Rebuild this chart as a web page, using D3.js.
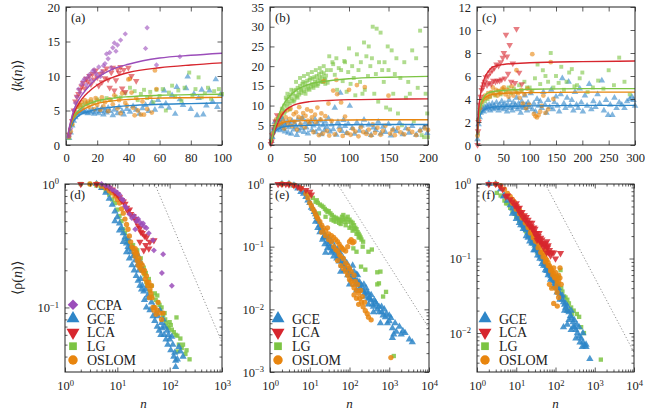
<!DOCTYPE html>
<html><head><meta charset="utf-8">
<script src="https://cdn.jsdelivr.net/npm/d3@7"></script>
<style>body{margin:0;background:#fff}</style>
</head><body><svg id="c" width="645" height="411"></svg>
<script>
// ---------------- DATA ----------------
const methods = ["CCPA","GCE","LCA","LG","OSLOM"];
const methodColors = ["#9b4dba","#2e86c8","#d7262e","#7cc443","#e8850e"];

// Panel (a) scatter [n, <k(n)>]
const a_GCE = [[2,1],[3,1.8],[4,2.8],[5,3.5],[6,4],[7,4.4],[8,4.6],[9,4.8],[10,4.9],[11,5],[12,4.7],[13,4.8],[14,4.6],[15,4.9],[16,4.7],[17,5.1],[18,4.5],[19,4.8],[20,5.2],[21,4.6],[22,4.9],[23,5.3],[24,4.4],[25,5],[26,4.7],[27,5.4],[28,4.9],[30,4.3],[31,5.1],[33,4.6],[34,5.5],[36,4.9],[37,4.4],[39,5.2],[41,4.8],[43,5.6],[45,5.1],[47,4.5],[49,5.3],[51,5.8],[53,4.9],[55,6.2],[57,5.1],[59,6.5],[61,5.6],[63,7.9],[64,6],[66,5.4],[68,7.2],[70,4.5],[71,8.4],[73,6.6],[75,5.8],[77,8.2],[78,9.9],[80,5.2],[82,7.4],[84,4.3],[85,6.8],[87,8],[88,4.4],[90,5.7],[92,7.9],[94,6.3],[96,9.5],[97,5.5],[99,7.3]];
const a_LG = [[2,1],[4,3],[6,4.5],[8,5.5],[10,5.8],[12,6],[14,6.1],[16,6.3],[18,6.2],[20,6.6],[23,6.4],[26,6.8],[29,6.5],[32,7],[35,6.9],[38,7.5],[41,8.3],[44,7.8],[46,6.5],[48,7.4],[50,8],[52,6.8],[54,7.7],[56,6.2],[58,8],[60,7.1],[62,8.1],[64,5],[66,7.6],[68,8.6],[70,7],[72,7.9],[74,6.4],[76,8.3],[79,10.5],[81,7.2],[83,8.1],[85,9.8],[87,6.9],[89,7.5],[91,8.3],[93,6.7],[95,7.8],[98,8.1],[100,7.4]];
const a_OSLOM = [[2,1.2],[3,2],[4,3],[5,4.2],[6,4.8],[7,5.5],[8,6],[9,5.7],[10,6.2],[11,5.4],[12,6.5],[13,5.9],[14,6.3],[15,5.5],[16,6.6],[17,6],[18,5.2],[19,6.8],[20,5.8],[21,6.4],[22,5.1],[23,6.9],[24,5.6],[25,6.2],[27,4.9],[28,6.6],[30,5.9],[31,7.2],[33,5.3],[34,6.5],[35,4.6],[36,7.5],[38,6.1],[39,5.7],[40,9.5],[41,9.6],[42,7.6],[43,5.4],[44,4.3],[45,6.8],[46,5],[48,4.4],[49,6.3],[50,4.4],[52,5.2],[54,7],[55,4.7],[57,10.8],[58,8.1]];
const a_LCA = [[2,1.5],[4,3.5],[5,5],[6,6.3],[7,7],[8,7.4],[9,8],[10,8.5],[11,9],[12,8.2],[13,9.6],[14,9.2],[15,10],[16,8.8],[17,10.3],[18,9.5],[19,10.8],[20,9.8],[21,8.6],[22,10.3],[23,9.1],[24,10.7],[25,9.7],[26,11.1],[27,9.5],[28,8.3],[29,10.5],[30,11.2],[31,7.9],[32,9.4],[33,11],[34,10.5],[35,11.3],[36,8.2],[37,10.9],[38,7.7],[40,11.2],[42,10],[45,9.3]];
const a_CCPA = [[2,1.3],[3,2.4],[4,3.6],[5,5],[6,6.1],[7,7],[8,8.1],[9,7.6],[10,8.8],[11,9.3],[12,9.6],[13,8.7],[14,9.8],[15,10.2],[16,9.4],[17,10.7],[18,10.9],[19,10.4],[20,10.1],[21,11.3],[22,9.9],[23,10.6],[24,11.5],[25,11.8],[26,13.2],[27,12.5],[28,13.4],[29,11.2],[30,14.1],[31,14.8],[32,13.6],[33,14.5],[35,15.2],[38,16.1],[51,14],[52,17],[58,11.6],[73,12.8]];
// Panel (a) fitted curves
const fitA_n = [1,2,4,6,8,10,15,20,30,40,60,80,100];
const fitA_CCPA = [1,2.4,4.3,5.6,6.5,7.2,8.6,9.7,11.0,11.7,12.6,13.0,13.3];
const fitA_LCA = [1,2.3,4.0,5.1,5.9,6.6,7.8,8.7,9.8,10.5,11.2,11.6,11.9];
const fitA_LG = [1,2.2,3.7,4.5,5.0,5.4,6.0,6.4,6.8,7.0,7.2,7.3,7.35];
const fitA_OSLOM = [1,2.1,3.5,4.3,4.7,5.0,5.6,6.0,6.4,6.6,6.8,6.85,6.9];
const fitA_GCE = [1,1.9,3.1,3.8,4.2,4.5,4.9,5.2,5.5,5.7,5.9,6.0,6.1];

// Panel (b)
const b_GCE = [[2,1],[3,2],[4,3.5],[5,4.2],[6,5.8],[7,4.7],[8,3.9],[9,5.2],[10,6.3],[11,4.4],[12,5],[13,3.7],[14,5.6],[15,4.8],[16,6.6],[17,4.1],[18,5.3],[19,3.4],[20,4.9],[22,5.9],[23,3.1],[24,4.5],[26,5.2],[27,2.8],[28,6.1],[30,3.9],[31,5.5],[33,4.6],[34,2.5],[35,6.4],[37,3.6],[38,5.1],[40,4.2],[41,6.8],[43,3.3],[45,5.7],[46,4.4],[48,2.9],[50,5.3],[52,6],[53,3.8],[55,4.9],[57,6.5],[58,3.2],[60,5.5],[62,4.1],[64,6.2],[65,2.7],[67,5],[69,3.7],[70,5.9],[72,4.5],[74,6.7],[76,3.4],[78,5.2],[80,4],[82,9.4],[84,2.6],[86,5.8],[88,4.6],[89,13.2],[91,3.5],[93,6.3],[95,4.8],[97,3],[99,5.4],[101,9.9],[104,4.3],[107,2.8],[110,5.7],[113,3.6],[116,4.9],[119,6.4],[122,3.2],[125,5.1],[128,2.5],[131,4.4],[134,3.8],[137,5.9],[140,2.9],[143,4.6],[146,3.3],[150,5.3],[153,2.4],[156,4],[160,3.5],[164,5.6],[168,2.7],[172,4.2],[176,3.1],[180,4.8],[185,2.6],[190,3.7],[195,4.5],[199,3]];
const b_LG = [[3,2],[5,3.5],[8,5],[10,6.5],[12,7],[14,8],[15,9.2],[17,9],[18,10],[20,10.5],[21,11.5],[23,11],[24,12.2],[26,12.8],[27,11.8],[29,13],[30,13.8],[32,12.5],[33,14],[35,14.5],[36,13.3],[38,15],[39,14.2],[41,15.5],[42,16],[44,14.8],[45,15.7],[47,16.3],[48,15],[50,16.5],[51,17],[53,15.5],[54,16.8],[56,17.2],[57,16],[59,17.5],[60,16.5],[62,18],[63,17],[65,18.5],[66,17.3],[68,18.2],[69,16.8],[71,17.6],[73,15.8],[75,22.5],[77,19],[79,21],[80,20.5],[82,17.8],[84,22],[85,14],[87,19.5],[90,19],[92,16.2],[94,21.3],[95,21],[97,13.5],[99,18.5],[100,24.5],[102,15.5],[104,20],[106,17],[108,12.6],[110,23],[112,19],[114,16],[115,21],[117,13],[119,26],[120,14],[122,22.5],[124,17.5],[125,25],[127,20],[129,22],[130,30],[132,13],[134,18],[135,29.5],[137,11],[138,21],[140,28.5],[142,19],[144,16],[145,21],[147,9.5],[149,25],[150,19],[152,9],[154,24],[156,13],[158,18],[160,22],[162,8],[165,17],[167,5],[170,21],[172,12],[175,16],[177,13],[180,24],[182,6],[185,22],[187,14.5],[190,29],[192,2.5],[195,2],[197,13],[199,8],[200,2],[19,8.5],[25,10.5],[31,11.5],[37,12.8],[43,13.6],[49,14.3],[55,15],[61,15.5],[67,16],[22,9.8],[28,11.2],[34,12.3],[40,13.2],[46,14],[52,14.8],[58,15.3],[64,16.2],[70,16.6],[15,7],[18,8],[20,12],[22,13],[25,9],[27,14],[30,11],[33,16],[35,12],[38,17],[40,14],[43,17.5],[45,13],[48,18],[50,14],[53,18.5],[55,14.5],[58,19],[60,15],[63,19.5],[65,16],[68,20],[70,15.5],[72,19]];
const b_OSLOM = [[2,1],[4,3],[6,5],[8,6.5],[10,5],[12,7.5],[14,5.5],[15,8],[17,6],[18,4.2],[20,7],[22,8.8],[23,5.3],[25,6.6],[26,9.2],[28,4.8],[30,7.8],[31,5.9],[33,8.3],[34,3.9],[36,7.1],[37,9.6],[39,5.2],[40,6.8],[42,8.1],[44,4.5],[45,7.4],[47,9],[48,6.2],[50,5.4],[52,8.6],[53,7],[55,3.3],[57,7.7],[58,5.8],[60,9.5],[62,2.5],[64,6.5],[65,8],[67,2.9],[68,16.2],[70,7.3],[72,3.6],[74,10.5],[75,2.4],[78,6.1],[80,13.8],[82,2.7],[84,16.5],[85,12.9],[88,3.8],[90,10.8],[92,2.3],[95,7.2],[98,3],[100,14],[102,2.6],[105,4.1],[108,3.4],[110,15.2],[112,2.2],[115,4.5],[118,3.3],[120,14.7],[122,2.8],[125,3.9],[128,2.4],[130,5.2],[133,3.1],[136,4.4],[140,2.6],[143,3.6],[146,4.9],[150,12.5],[152,2.9],[155,3.8],[158,2.5],[162,4.3],[165,3.2],[170,2.7],[175,4],[180,3.3],[185,2.5],[190,3.6],[196,4.2],[200,3.8]];
const b_LCA = [[1,0.3],[2,1],[3,2.5],[5,4],[7,6],[9,7.6]];
const fitB_n = [1,3,6,10,15,20,30,50,75,100,150,200];
const fitB_LG = [0.5,2,4.5,7,9.5,11.2,13.4,15.4,16.3,16.8,17.2,17.4];
const fitB_LCA = [0.5,1.8,3.6,5.6,7.6,8.9,10.1,11.0,11.3,11.5,11.6,11.7];
const fitB_OSLOM = [0.5,2.2,4.0,5.0,5.6,5.9,6.1,6.2,6.3,6.35,6.4,6.4];
const fitB_GCE = [0.5,1.8,3.2,4.0,4.5,4.7,4.9,5.0,5.1,5.15,5.2,5.2];

// Panel (c)
const c_GCE = [[1,0.5],[3,1.8],[5,2.4],[7,2.8],[9,3],[11,3.2],[13,2.9],[15,3.3],[17,3.1],[19,3.4],[21,3.2],[23,3.5],[25,3],[27,3.3],[29,3.6],[31,3.1],[33,3.4],[35,3.2],[37,3.7],[39,3.3],[41,3],[43,3.5],[45,3.2],[47,3.8],[49,3.4],[51,3.1],[53,3.6],[55,3.3],[57,2.9],[59,3.5],[61,3.9],[63,3.2],[65,3.4],[67,3],[69,3.7],[71,3.3],[73,3.5],[75,4.1],[77,3.1],[79,3.6],[81,3.3],[83,2.8],[85,3.8],[87,3.4],[89,3.2],[91,4.3],[93,3.5],[95,3],[97,3.7],[99,3.3],[102,4.5],[105,3.1],[108,3.6],[111,2.9],[114,4],[117,3.4],[120,3.8],[123,3.2],[126,4.6],[129,3.5],[132,2.8],[135,3.9],[138,3.3],[141,4.8],[144,3.1],[147,3.7],[150,4.2],[153,3.4],[156,2.9],[159,4.4],[162,5.8],[165,3.6],[168,3.2],[171,4.1],[174,5.5],[177,3.4],[180,3.9],[183,3],[186,4.6],[189,3.5],[192,3.2],[195,4.9],[198,3.7],[201,2.9],[205,4.3],[209,3.4],[213,5.3],[217,3.1],[221,3.8],[225,3.3],[229,4.4],[233,3.6],[237,5.6],[241,3],[245,3.9],[249,2.6],[253,3.5],[257,2.6],[261,4.1],[265,3.2],[270,3.7],[275,3.5],[280,3.2],[285,3.8],[290,4],[294,4.2],[297,3.9],[300,3.4]];
const c_LG = [[2,1],[5,2.8],[10,3.5],[15,3.8],[20,4],[25,4.2],[30,4.5],[35,4.3],[40,4.7],[45,4.4],[50,4.8],[55,4.6],[60,5],[65,4.5],[70,4.9],[75,4.6],[80,5.2],[85,4.7],[90,5.5],[95,5],[100,5],[105,4.7],[110,5.8],[115,7],[120,5.3],[125,6.5],[130,6],[135,5.5],[140,8],[145,5],[150,6],[155,5.4],[160,6.8],[165,4.8],[170,5.5],[175,6.3],[180,6.6],[185,5.1],[190,5.2],[195,5.8],[200,6.3],[210,4.6],[220,5],[230,5.6],[240,4.9],[250,6.5],[260,5.2],[270,7.6],[280,5.5],[290,4.4]];
const c_OSLOM = [[1,0.8],[3,2.2],[6,3.2],[9,3.8],[12,4],[15,4.3],[18,4.1],[21,4.5],[24,4.2],[27,4.6],[30,5],[33,4.4],[36,4.8],[39,4.3],[42,4.7],[45,4.5],[48,4.9],[51,5],[54,4.4],[57,4.8],[60,4.2],[63,4.6],[66,5.1],[69,4.3],[72,4.7],[75,6.5],[78,4.5],[81,4.1],[84,4.8],[87,3.6],[90,4.4],[93,3.2],[96,4.9],[99,3.5],[102,4.6],[105,7.9],[108,2.7],[111,2.5],[114,2.4],[117,2.6],[120,2.9],[123,3.4],[126,4.3],[130,2.8],[135,3.1],[140,7.2],[145,4]];
const c_LCA = [[1,0],[2,1.2],[3,2],[5,3.5],[7,4.2],[9,4.8],[11,5],[13,5.3],[15,5.5],[17,5.9],[19,5.2],[21,6],[23,5.4],[25,6.3],[27,5.3],[29,6.5],[31,5.6],[33,6.7],[35,5.5],[37,7],[39,5.6],[41,6.9],[43,5.6],[45,7.2],[47,5.7],[49,7.6],[51,8],[53,5.8],[55,9.6],[57,7.7],[59,6.2],[62,8.7],[65,5.5],[68,7.1],[72,5.4],[75,10.1],[80,6.3],[85,5.3]];
const fitC_n = [1,2,4,7,10,15,20,30,50,100,200,300];
const fitC_LCA = [1,2.2,3.5,4.5,5.2,5.9,6.3,6.8,7.0,7.15,7.25,7.3];
const fitC_LG = [1,1.8,2.8,3.5,3.9,4.3,4.5,4.65,4.75,4.85,4.9,4.9];
const fitC_OSLOM = [1,1.8,2.7,3.4,3.8,4.1,4.25,4.4,4.5,4.55,4.6,4.6];
const fitC_GCE = [0.9,1.5,2.2,2.7,2.95,3.1,3.2,3.3,3.35,3.4,3.45,3.45];

// Panel (d) [n, <rho(n)>]
const d_LG = [[2,1],[3,1],[4,0.97],[5,0.93],[6,0.88],[7,0.82],[8,0.75],[9,0.7],[10,0.62],[11,0.55],[12,0.5],[13,0.43],[14,0.4],[15,0.36],[16,0.34],[18,0.32],[19,0.3],[21,0.27],[23,0.26],[25,0.24],[27,0.215],[30,0.2],[33,0.185],[36,0.16],[38,0.15],[42,0.135],[46,0.123],[50,0.1],[54,0.115],[60,0.11],[66,0.095],[75,0.087],[82,0.08],[90,0.07],[100,0.076],[110,0.066],[120,0.063],[135,0.083],[140,0.059],[150,0.05],[160,0.056],[140,0.044],[200,0.042],[240,0.038],[20,0.32],[24,0.29],[28,0.25],[32,0.21],[35,0.19],[40,0.17],[45,0.15],[52,0.13],[58,0.125],[64,0.105],[70,0.1],[80,0.09],[85,0.075],[95,0.068],[105,0.072],[130,0.06],[170,0.047],[180,0.05],[210,0.045]];
const d_GCE = [[4,1],[5,0.93],[6,0.85],[7,0.76],[8,0.68],[9,0.6],[10,0.54],[11,0.48],[12,0.44],[13,0.4],[14,0.37],[15,0.33],[16,0.31],[17,0.3],[18,0.28],[20,0.26],[22,0.24],[24,0.22],[26,0.2],[28,0.17],[30,0.15],[32,0.135],[35,0.14],[38,0.125],[40,0.12],[45,0.11],[50,0.1],[55,0.09],[60,0.085],[65,0.095],[70,0.075],[75,0.08],[80,0.07],[90,0.065],[95,0.06],[100,0.055],[110,0.058],[115,0.05],[125,0.043],[130,0.037],[160,0.044],[150,0.048],[180,0.04],[9,0.5],[11,0.42],[13,0.34],[15,0.28],[17,0.25],[19,0.22],[21,0.2],[23,0.18],[25,0.165],[27,0.15],[29,0.14],[33,0.115],[36,0.1],[42,0.095],[48,0.085],[52,0.078],[58,0.07],[63,0.065],[68,0.06],[72,0.068],[78,0.06],[85,0.055],[92,0.05],[105,0.045],[120,0.04],[140,0.038],[16,0.36],[20,0.3],[24,0.27],[28,0.23],[31,0.2],[130,0.033]];
const d_OSLOM = [[3,1],[4,1],[5,0.96],[6,0.93],[7,0.88],[8,0.85],[9,0.8],[10,0.75],[11,0.7],[12,0.63],[13,0.58],[14,0.52],[15,0.47],[16,0.43],[17,0.38],[18,0.34],[19,0.31],[20,0.3],[21,0.28],[22,0.26],[23,0.28],[24,0.24],[25,0.22],[27,0.21],[29,0.2],[30,0.22],[32,0.19],[34,0.17],[36,0.18],[38,0.15],[40,0.16],[42,0.14],[44,0.13],[46,0.12],[48,0.1],[50,0.095],[55,0.088],[60,0.11],[65,0.09],[70,0.08],[22,0.3],[24,0.27],[26,0.25],[28,0.23],[33,0.2],[37,0.16],[41,0.12],[45,0.15],[52,0.1],[58,0.095],[75,0.09]];
const d_LCA = [[2,1],[4,1],[6,0.96],[7,0.93],[8,0.9],[9,0.85],[10,0.82],[11,0.78],[12,0.74],[13,0.72],[14,0.69],[15,0.64],[16,0.6],[17,0.62],[18,0.57],[20,0.55],[22,0.52],[23,0.5],[25,0.46],[27,0.44],[28,0.41],[30,0.4],[33,0.38],[36,0.37],[27,0.34],[35,0.32],[42,0.34],[50,0.35],[32,0.29],[40,0.3]];
const d_CCPA = [[5,1],[6,0.97],[7,0.95],[8,0.9],[9,0.88],[10,0.85],[11,0.82],[12,0.76],[13,0.74],[14,0.66],[15,0.64],[17,0.57],[19,0.53],[21,0.55],[23,0.5],[25,0.52],[27,0.49],[29,0.47],[31,0.48],[33,0.45],[36,0.44],[22,0.43],[40,0.4],[48,0.35],[50,0.29],[75,0.27],[71,0.19],[110,0.15]];

// Panel (e)
const e_LG = [[2,1],[3,1],[4,0.97],[5,0.9],[6,0.85],[8,0.75],[10,0.67],[12,0.6],[14,0.52],[15,0.55],[16,0.5],[18,0.47],[20,0.45],[22,0.43],[24,0.4],[26,0.38],[28,0.36],[30,0.37],[33,0.34],[36,0.32],[40,0.3],[45,0.29],[50,0.28],[55,0.27],[60,0.26],[65,0.3],[70,0.32],[75,0.25],[80,0.28],[90,0.3],[100,0.27],[110,0.25],[120,0.24],[130,0.22],[140,0.2],[150,0.19],[160,0.17],[170,0.16],[180,0.15],[190,0.14],[200,0.13],[220,0.12],[17,0.34],[25,0.3],[35,0.27],[45,0.25],[60,0.23],[80,0.22],[100,0.2],[120,0.18],[150,0.16],[40,0.26],[55,0.24],[70,0.27],[90,0.25],[110,0.21],[130,0.19],[170,0.14],[215,0.1],[125,0.094],[150,0.083],[300,0.083],[365,0.09],[195,0.048],[250,0.043],[500,0.039],[550,0.026],[600,0.04],[500,0.025],[830,0.019],[700,0.016],[1300,0.0018]];
const e_GCE = [[2,1],[3,1],[4,0.95],[5,0.85],[6,0.75],[7,0.7],[8,0.62],[9,0.55],[10,0.5],[11,0.42],[12,0.4],[13,0.36],[14,0.33],[15,0.3],[16,0.27],[17,0.25],[18,0.22],[19,0.2],[20,0.19],[22,0.17],[21,0.13],[24,0.15],[26,0.14],[28,0.12],[30,0.11],[25,0.08],[32,0.1],[35,0.095],[38,0.09],[40,0.085],[45,0.08],[50,0.075],[55,0.07],[60,0.065],[65,0.058],[70,0.053],[75,0.05],[80,0.045],[60,0.04],[90,0.042],[100,0.038],[110,0.035],[120,0.05],[125,0.032],[140,0.03],[150,0.036],[160,0.028],[170,0.025],[180,0.022],[200,0.024],[220,0.02],[240,0.018],[250,0.016],[270,0.019],[300,0.018],[320,0.015],[350,0.014],[380,0.012],[400,0.011],[450,0.013],[500,0.01],[560,0.009],[640,0.011],[700,0.008],[800,0.0075],[900,0.006],[1000,0.0065],[1100,0.0073],[1200,0.005],[1300,0.004],[1500,0.0044],[1800,0.0053],[2200,0.0045],[3200,0.0033],[1200,0.0035],[600,0.006],[400,0.009],[300,0.012],[150,0.02],[100,0.025],[14,0.25],[16,0.2],[18,0.17],[22,0.14],[24,0.11],[28,0.095],[30,0.14],[34,0.08],[36,0.12],[40,0.07],[42,0.1],[48,0.065],[50,0.09],[55,0.058],[58,0.08],[65,0.05],[70,0.065],[75,0.042],[85,0.055],[90,0.035],[100,0.045],[110,0.03],[130,0.04],[140,0.025],[160,0.035],[180,0.027],[200,0.02],[230,0.025],[260,0.022],[300,0.015],[350,0.017],[420,0.014],[480,0.012],[550,0.011],[650,0.009],[750,0.01],[850,0.0085],[1000,0.008],[1400,0.006],[2000,0.004],[2500,0.0042],[3800,0.003]];
const e_OSLOM = [[2,1],[3,1],[4,0.95],[6,0.85],[8,0.7],[9,0.6],[10,0.5],[11,0.45],[12,0.4],[13,0.37],[14,0.33],[15,0.3],[16,0.28],[18,0.25],[20,0.22],[22,0.2],[25,0.18],[28,0.2],[30,0.16],[35,0.15],[40,0.14],[45,0.13],[50,0.12],[55,0.11],[60,0.1],[65,0.095],[70,0.09],[80,0.085],[90,0.1],[100,0.12],[110,0.13],[120,0.115],[130,0.12],[50,0.06],[60,0.05],[70,0.045],[80,0.04],[90,0.035],[100,0.03],[110,0.028],[120,0.025],[130,0.022],[150,0.02],[170,0.018],[180,0.015],[200,0.013],[220,0.011],[250,0.0095],[280,0.0085],[300,0.0075],[350,0.0068],[1100,0.0017],[20,0.17],[25,0.15],[30,0.13],[35,0.12],[40,0.1],[45,0.09],[50,0.085],[55,0.075],[60,0.07],[70,0.065],[80,0.055],[90,0.05],[100,0.045],[110,0.04],[130,0.035],[140,0.028],[160,0.025],[190,0.02],[210,0.016],[240,0.013],[170,0.012],[130,0.017],[150,0.015]];
const e_LCA = [[1.6,1],[2,1],[2.5,1],[3,0.98],[4,0.95],[5,0.9],[6,0.85],[8,0.8],[10,0.75],[11,0.68]];

// Panel (f)
const f_GCE = [[2,1],[3,1],[4,0.85],[4.7,0.68],[5,0.7],[6,0.6],[7,0.52],[8,0.47],[9,0.43],[10,0.4],[11,0.38],[12,0.35],[13,0.33],[14,0.3],[15,0.28],[16,0.27],[17,0.25],[18,0.24],[20,0.22],[22,0.2],[24,0.185],[26,0.17],[28,0.16],[30,0.15],[32,0.14],[34,0.135],[36,0.125],[38,0.12],[40,0.11],[43,0.105],[46,0.098],[50,0.09],[53,0.085],[56,0.08],[60,0.075],[64,0.07],[68,0.065],[72,0.062],[76,0.058],[80,0.055],[85,0.052],[90,0.05],[95,0.047],[100,0.044],[105,0.042],[110,0.04],[120,0.036],[130,0.033],[140,0.031],[150,0.028],[160,0.026],[170,0.024],[180,0.022],[200,0.02],[220,0.019],[240,0.017],[260,0.016],[280,0.014],[300,0.012],[330,0.011],[360,0.01],[400,0.009],[450,0.0085],[500,0.0075],[550,0.0068],[600,0.0065],[750,0.0045],[12,0.3],[15,0.25],[20,0.19],[25,0.16],[30,0.13],[40,0.1],[50,0.08],[60,0.068],[70,0.07],[80,0.06],[100,0.05],[120,0.04],[150,0.032],[180,0.025],[200,0.023],[250,0.02],[300,0.015],[350,0.013],[160,0.012],[200,0.013],[250,0.011],[400,0.012],[500,0.01],[8,0.4],[10,0.34],[13,0.28],[18,0.2],[22,0.17],[28,0.13],[35,0.11],[45,0.085],[55,0.07],[65,0.06],[75,0.052],[90,0.042],[110,0.035],[130,0.028],[170,0.02],[220,0.015],[280,0.012],[330,0.0085],[420,0.0075],[600,0.007],[480,0.0065]];
const f_LG = [[2,1],[3.2,0.76],[4,0.7],[5.5,0.55],[6,0.55],[7,0.48],[8,0.43],[9,0.4],[10,0.36],[12,0.32],[14,0.28],[16,0.25],[18,0.23],[20,0.21],[23,0.19],[26,0.17],[30,0.15],[34,0.135],[38,0.12],[43,0.11],[48,0.1],[55,0.09],[62,0.08],[70,0.073],[80,0.065],[90,0.058],[100,0.05],[111,0.058],[134,0.07],[120,0.045],[140,0.04],[166,0.031],[200,0.028],[250,0.022],[290,0.02],[350,0.018],[400,0.0165],[450,0.012],[530,0.01],[1430,0.0044],[5,0.6],[7,0.52],[9,0.45],[11,0.36],[13,0.3],[15,0.27],[17,0.24],[20,0.2],[25,0.16],[30,0.14],[35,0.12],[40,0.11],[50,0.09],[60,0.075],[70,0.065],[80,0.06],[95,0.05],[105,0.048],[120,0.055],[150,0.036],[180,0.03],[220,0.025],[200,0.02],[260,0.018]];
const f_OSLOM = [[3,1],[4,0.95],[5,0.85],[6,0.75],[7,0.68],[8,0.62],[9,0.57],[10,0.52],[11,0.48],[12,0.45],[13,0.42],[14,0.39],[15,0.37],[16,0.35],[18,0.31],[20,0.28],[22,0.26],[24,0.24],[26,0.22],[28,0.2],[30,0.19],[33,0.18],[36,0.16],[40,0.15],[44,0.13],[48,0.12],[52,0.11],[56,0.1],[60,0.095],[65,0.088],[70,0.08],[75,0.075],[80,0.07],[90,0.063],[100,0.056],[110,0.05],[120,0.06],[130,0.075],[90,0.075],[25,0.26],[35,0.2],[45,0.16],[55,0.13],[40,0.18],[60,0.12],[100,0.04],[110,0.035],[120,0.03],[70,0.045],[80,0.04],[8,0.55],[10,0.46],[12,0.4],[14,0.35],[17,0.3],[20,0.26],[23,0.22],[27,0.19],[31,0.17],[36,0.14],[42,0.12],[48,0.105],[55,0.09],[65,0.08],[75,0.068],[85,0.06],[95,0.055],[110,0.045],[100,0.065],[120,0.05],[140,0.045],[90,0.025],[111,0.023],[130,0.055]];
const f_LCA = [[2,1],[3,1],[3.9,0.92],[4.5,0.85],[5.4,0.68],[6,0.7],[7,0.62],[8,0.58],[9,0.52],[10,0.5],[11,0.47],[12,0.42],[13,0.4],[15,0.35],[17,0.33],[19,0.3],[22,0.3],[24,0.27],[26,0.25],[28,0.23],[30,0.22],[32,0.2],[34,0.177],[36,0.19],[40,0.17],[44,0.16],[48,0.16],[52,0.15],[58,0.144],[63,0.14],[70,0.13],[80,0.12],[134,0.118],[10,0.55],[12,0.48],[14,0.42],[16,0.38],[18,0.36],[20,0.33],[22,0.27],[25,0.3],[28,0.26],[30,0.25],[33,0.22],[36,0.2],[38,0.22],[42,0.19],[45,0.18],[50,0.14],[55,0.16],[60,0.12],[65,0.15],[75,0.11],[90,0.12],[100,0.1],[60,0.17],[68,0.12]];

// Guide lines (dotted, slope -1): [n, rho] endpoints
const guideD = [[52,1],[1000,0.052]];
const guideE = [[50,1],[10000,0.005]];
const guideF = [[55,1],[10000,0.0055]];

// Tick values
const ticksAx = [0,20,40,60,80,100], ticksAy = [0,5,10,15,20];
const ticksBx = [0,50,100,150,200], ticksBy = [0,5,10,15,20,25,30,35];
const ticksCx = [0,50,100,150,200,250,300], ticksCy = [0,2,4,6,8,10,12];
const ticksDx = [1,10,100,1000], ticksDy = [0.1,1];
const ticksEx = [1,10,100,1000,10000], ticksEy = [0.001,0.01,0.1,1];
const ticksFx = [1,10,100,1000,10000], ticksFy = [0.01,0.1,1];

// ---------------- DRAWING ----------------
const FONT = '"Liberation Serif"';
const svg = d3.select("#c");
const col = m => methodColors[methods.indexOf(m)];

function symPath(m, size){
  const t = {CCPA:d3.symbolSquare,GCE:d3.symbolTriangle,LCA:d3.symbolTriangle,LG:d3.symbolSquare,OSLOM:d3.symbolCircle}[m];
  const s = {CCPA:0.8,GCE:1.05,LCA:1.05,LG:0.85,OSLOM:1}[m];
  return d3.symbol().type(t).size(size*s)();
}
function symRot(m){ return m==="CCPA"?45:(m==="LCA"?180:0); }

function drawPoints(g, data, m, x, y, size, op){
  g.append("g").selectAll("path").data(data).join("path")
    .attr("d", symPath(m,size))
    .attr("transform", d=>`translate(${x(d[0])},${y(d[1])}) rotate(${symRot(m)})`)
    .attr("fill", col(m)).attr("fill-opacity", op);
}

function supLabel(sel, fs){
  sel.each(function(d){
    const e = Math.round(Math.log10(d));
    const t = d3.select(this); t.text("10");
    t.append("tspan").attr("dy","-0.5em").attr("font-size",fs).text(e<0?"\u2212"+(-e):String(e));
  });
}

function frameAndAxes(g, x, y, P, xt, yt, log){
  const tc="#333";
  const ax = (gen, tr, vals, size, lab) => {
    const a = g.append("g").attr("transform", tr)
      .call(gen.tickValues(vals).tickSize(size).tickPadding(6).tickFormat(lab?null:""));
    a.attr("font-family", null);
    a.select(".domain").remove();
    a.selectAll("line").attr("stroke", tc).attr("stroke-width",0.8);
    a.selectAll("text").attr("font-size","12.5px").attr("fill","#222").style("font-family", FONT);
    return a;
  };
  let minX=[], minY=[];
  if(log){
    const [xa,xb]=x.domain(), [ya,yb]=y.domain();
    for(let e=Math.floor(Math.log10(xa)); e<Math.log10(xb); e++) for(let k=2;k<10;k++){const v=k*10**e; if(v>xa&&v<xb) minX.push(v);}
    for(let e=Math.floor(Math.log10(ya)); e<Math.log10(yb); e++) for(let k=2;k<10;k++){const v=k*10**e; if(v>ya&&v<yb) minY.push(v);}
  }
  const L = 4.5, l = 2.5;
  const xb = ax(d3.axisBottom(x), `translate(0,${P.y1})`, xt, -L, true);
  ax(d3.axisTop(x), `translate(0,${P.y0})`, xt, -L, false);
  const yl = ax(d3.axisLeft(y), `translate(${P.x0},0)`, yt, -L, true);
  ax(d3.axisRight(y), `translate(${P.x1},0)`, yt, -L, false);
  if(log){
    ax(d3.axisBottom(x), `translate(0,${P.y1})`, minX, -l, false);
    ax(d3.axisTop(x), `translate(0,${P.y0})`, minX, -l, false);
    ax(d3.axisLeft(y), `translate(${P.x0},0)`, minY, -l, false);
    ax(d3.axisRight(y), `translate(${P.x1},0)`, minY, -l, false);
    supLabel(xb.selectAll("text"), "8.5px");
    supLabel(yl.selectAll("text"), "8.5px");
    xb.selectAll("text").attr("dy","0.95em");
  } else {
    xb.selectAll("text").attr("dy","0.85em");
  }
  g.append("rect").attr("x",P.x0).attr("y",P.y0).attr("width",P.x1-P.x0).attr("height",P.y1-P.y0)
    .attr("fill","none").attr("stroke","#222").attr("stroke-width",1);
}

function txt(g){ return g.append("text").style("font-family", FONT).attr("fill","#222"); }

function panelLabel(g, P, t){
  txt(g).attr("x",P.x0+5).attr("y",P.y0+15).attr("font-size","13px").text(t);
}

const lineGen = (x,y) => d3.line().x(d=>x(d[0])).y(d=>y(d[1])).curve(d3.curveMonotoneX);

function topPanel(P, xd, yd, xt, yt, series, fits, fitN, label){
  const g = svg.append("g");
  const x = d3.scaleLinear().domain(xd).range([P.x0,P.x1]);
  const y = d3.scaleLinear().domain(yd).range([P.y1,P.y0]);
  series.forEach(([m,data]) => drawPoints(g, data, m, x, y, 18, 0.6));
  fits.forEach(([m,vals]) => {
    g.append("path").datum(fitN.map((n,i)=>[n,vals[i]])).attr("d", lineGen(x,y))
      .attr("fill","none").attr("stroke",col(m)).attr("stroke-width",1.4);
  });
  frameAndAxes(g, x, y, P, xt, yt, false);
  panelLabel(g, P, label);
}

function botPanel(P, xd, yd, xt, yt, series, guide, label, legendM){
  const g = svg.append("g");
  const x = d3.scaleLog().domain(xd).range([P.x0,P.x1]);
  const y = d3.scaleLog().domain(yd).range([P.y1,P.y0]);
  const cid = "clip"+label.replace(/\W/g,"");
  svg.append("clipPath").attr("id",cid).append("rect").attr("x",P.x0).attr("y",P.y0).attr("width",P.x1-P.x0).attr("height",P.y1-P.y0);
  g.append("path").datum(guide).attr("d", d3.line().x(d=>x(d[0])).y(d=>y(d[1])))
    .attr("clip-path",`url(#${cid})`).attr("stroke","#888").attr("stroke-width",0.9).attr("stroke-dasharray","1.2,2").attr("fill","none");
  series.forEach(([m,data]) => drawPoints(g, data, m, x, y, 22, 0.85));
  frameAndAxes(g, x, y, P, xt, yt, true);
  panelLabel(g, P, label);
  legendM.forEach((m,i)=>{
    const yy = P.y1 - 12 - (legendM.length-1-i)*13.8;
    g.append("path").attr("d", symPath(m,70)).attr("transform",`translate(${P.x0+8},${yy}) rotate(${symRot(m)})`).attr("fill",col(m));
    txt(g).attr("x",P.x0+22).attr("y",yy).attr("dy","0.35em").attr("font-size","14px").text(m);
  });
  txt(g).attr("x",(P.x0+P.x1)/2).attr("y",408).attr("text-anchor","middle").attr("font-size","13px").attr("font-style","italic").text("n");
}

const PA={x0:66,x1:222,y0:7,y1:145}, PB={x0:270,x1:428,y0:7,y1:145}, PC={x0:477,x1:635,y0:7,y1:145};
const PD={x0:65,x1:222,y0:184,y1:372}, PE={x0:270,x1:429,y0:184,y1:372}, PF={x0:477,x1:634,y0:184,y1:372};

topPanel(PA,[0,100],[0,20],ticksAx,ticksAy,
  [["GCE",a_GCE],["LG",a_LG],["OSLOM",a_OSLOM],["LCA",a_LCA],["CCPA",a_CCPA]],
  [["GCE",fitA_GCE],["OSLOM",fitA_OSLOM],["LG",fitA_LG],["LCA",fitA_LCA],["CCPA",fitA_CCPA]], fitA_n, "(a)");
topPanel(PB,[0,200],[0,35],ticksBx,ticksBy,
  [["LG",b_LG],["GCE",b_GCE],["OSLOM",b_OSLOM],["LCA",b_LCA]],
  [["GCE",fitB_GCE],["OSLOM",fitB_OSLOM],["LCA",fitB_LCA],["LG",fitB_LG]], fitB_n, "(b)");
topPanel(PC,[0,300],[0,12],ticksCx,ticksCy,
  [["GCE",c_GCE],["LG",c_LG],["OSLOM",c_OSLOM],["LCA",c_LCA]],
  [["GCE",fitC_GCE],["OSLOM",fitC_OSLOM],["LG",fitC_LG],["LCA",fitC_LCA]], fitC_n, "(c)");

botPanel(PD,[1,1000],[0.03,1],ticksDx,ticksDy,
  [["LG",d_LG],["GCE",d_GCE],["OSLOM",d_OSLOM],["LCA",d_LCA],["CCPA",d_CCPA]], guideD, "(d)", ["CCPA","GCE","LCA","LG","OSLOM"]);
botPanel(PE,[1,10000],[0.001,1],ticksEx,ticksEy,
  [["LG",e_LG],["GCE",e_GCE],["OSLOM",e_OSLOM],["LCA",e_LCA]], guideE, "(e)", ["GCE","LCA","LG","OSLOM"]);
botPanel(PF,[1,10000],[0.003,1],ticksFx,ticksFy,
  [["LG",f_LG],["GCE",f_GCE],["OSLOM",f_OSLOM],["LCA",f_LCA]], guideF, "(f)", ["GCE","LCA","LG","OSLOM"]);

// y-axis titles
const t1 = txt(svg).attr("transform","translate(22,76) rotate(-90)").attr("text-anchor","middle").attr("font-size","14px");
t1.append("tspan").text("\u27E8");
t1.append("tspan").attr("font-style","italic").text("k");
t1.append("tspan").text("(");
t1.append("tspan").attr("font-style","italic").text("n");
t1.append("tspan").text(")\u27E9");
const t2 = txt(svg).attr("transform","translate(22,278) rotate(-90)").attr("text-anchor","middle").attr("font-size","14px");
t2.append("tspan").text("\u27E8\u03C1(");
t2.append("tspan").attr("font-style","italic").text("n");
t2.append("tspan").text(")\u27E9");
</script></body></html>
